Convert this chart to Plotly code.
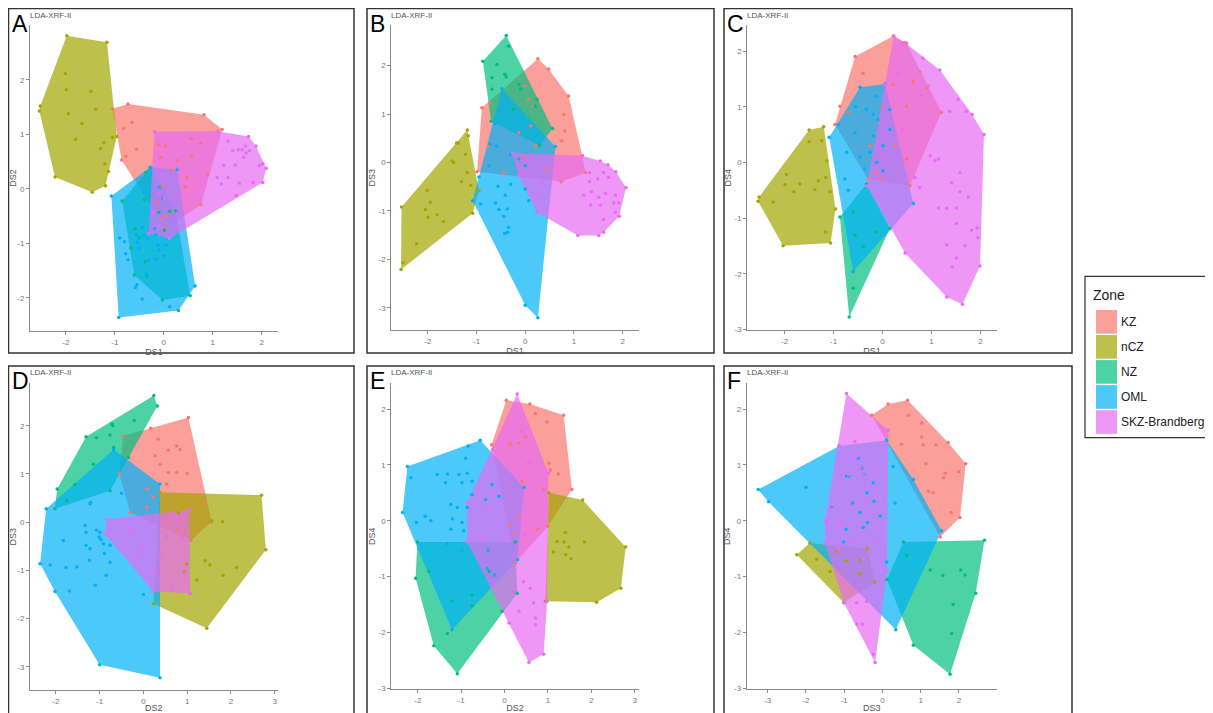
import plotly.graph_objects as go

# the page body adds an 8 px margin, so the figure is sized to fill the rest of the window
PAGE_W, PAGE_H, BODY_MARGIN = 1213, 713, 8
W, H = PAGE_W - BODY_MARGIN, PAGE_H - BODY_MARGIN

ZONES = ["KZ", "nCZ", "NZ", "OML", "SKZ-Brandberg"]
COLORS = ["#F8766D", "#A3A500", "#00BF7D", "#00B0F6", "#E76BF3"]
PANEL_TITLE = "LDA-XRF-II"

# ---------------- Panel A : DS1 vs DS2 ----------------
A_KZ = [(-1.05,1.47),(-0.73,1.56),(0.82,1.36),(1.19,1.09),(0.76,-0.29),(0.03,-0.73),(-0.86,0.53),
        (-0.65,1.22),(-0.82,1.11),(-0.56,0.73),(-0.10,0.81),(0.03,0.79),(-0.07,0.58),(0.27,0.52),
        (0.57,0.92),(0.75,0.84),(0.56,0.60),(0.47,0.21),(0.44,0.03),(0.90,0.27),(-0.02,0.04),
        (-0.14,-0.24),(-0.05,-0.55),(0.05,-0.50),(0.16,0.36),(-0.78,0.60)]
A_nCZ = [(-1.98,2.81),(-1.16,2.69),(-0.96,0.96),(-1.19,0.06),(-1.46,-0.06),(-2.22,0.22),(-2.54,1.43),
         (-2.52,1.52),(-2.01,2.12),(-1.99,1.82),(-1.49,1.79),(-1.95,1.38),(-1.39,1.46),(-1.67,1.20),
         (-1.80,0.91),(-1.22,0.85),(-1.29,0.74),(-1.20,0.46),(-1.13,0.32),(-1.05,0.95)]
A_NZ = [(-0.37,0.30),(-0.27,0.40),(0.24,-0.40),(0.54,-1.96),(-0.03,-2.04),(-0.60,-1.58),(-0.85,-0.22),
        (-0.58,-0.73),(-0.67,-1.08),(-0.38,-1.33),(0.12,-0.41),(0.01,-0.76),(-0.10,-0.43),
        (-0.35,-1.60),(-0.40,-0.20),(-0.50,-0.90)]
A_OML = [(-1.07,-0.13),(-0.28,0.40),(0.27,0.35),(0.64,-1.78),(0.30,-2.23),(-0.92,-2.36),
         (-0.90,-0.90),(-0.80,-0.97),(-0.78,-1.19),(-0.73,-1.30),(-0.56,-0.84),(-0.54,-0.98),
         (-0.44,-0.71),(-0.41,-0.86),(-0.33,-0.91),(-0.51,-1.09),(-0.31,-1.31),(-0.10,-1.12),
         (0.01,-1.23),(0.05,-1.03),(-0.12,-1.03),(-0.16,-0.85),(-0.58,-1.81),(-0.55,-1.76),
         (-0.44,-2.02),(0.12,-2.16),(-0.35,-1.56),(-0.16,-1.29),(-0.02,-0.18),(-0.09,0.03),(-0.19,-0.73)]
A_SKZ = [(-0.19,1.05),(1.10,1.06),(1.73,0.96),(1.88,0.79),(2.09,0.38),(2.02,0.12),(1.48,-0.12),
         (0.12,-0.91),(-0.31,-0.82),(1.31,0.88),(1.41,0.70),(1.52,0.72),(1.67,0.79),(1.68,0.66),
         (1.63,0.58),(1.46,0.44),(1.22,0.43),(1.31,0.21),(1.09,0.21),(1.54,0.11),(1.82,0.12),
         (1.95,0.43),(2.02,0.46),(1.17,0.09),(-0.02,0.27),(-0.09,-0.06),(0.01,-0.18),(-0.22,-0.43),
         (-0.09,-0.67),(1.60,0.72),(1.75,0.70)]

# ---------------- Panel B : DS1 vs DS3 ----------------
B_KZ = [(0.26,2.14),(0.48,1.93),(0.89,1.37),(1.17,0.14),(1.24,-0.21),(0.74,-0.40),(-0.99,-0.19),
        (-0.89,1.13),(-0.73,1.23),(0.0,1.58),(0.07,1.30),(0.17,1.16),(0.79,0.99),(0.81,0.65),
        (0.75,0.45),(0.11,0.75),(-0.13,0.62),(0.21,0.34),(-0.06,0.07),(0.45,-0.14),(-0.44,-0.21),
        (-0.75,0.34)]
B_nCZ = [(-1.19,0.67),(-0.95,-0.58),(-1.08,-1.05),(-2.55,-2.21),(-2.54,-0.92),(-1.17,0.55),
         (-1.38,0.40),(-1.50,0.03),(-1.47,0.00),(-1.19,-0.21),(-1.31,-0.40),(-1.12,-0.47),
         (-2.01,-0.58),(-1.95,-0.82),(-2.05,-0.97),(-2.00,-1.13),(-1.81,-1.08),(-1.68,-1.22),
         (-2.23,-1.68),(-2.51,-2.07),(-1.23,0.17),(-1.41,0.40)]
B_NZ = [(-0.39,2.62),(0.56,0.70),(0.30,0.35),(-0.70,0.85),(-0.87,2.09),(-0.34,2.40),(-0.58,2.02),
        (-0.68,1.75),(-0.42,1.82),(-0.39,1.77),(-0.13,1.61),(-0.10,1.51),(-0.68,1.51),(-0.24,1.10),
        (0.21,1.16),(0.24,1.30)]
B_OML = [(-0.48,1.52),(0.62,0.33),(0.26,-3.21),(0.00,-2.95),(-1.08,-0.79),(-0.95,-0.30),(-0.62,0.80),
         (-0.72,0.38),(-0.59,0.34),(-0.30,0.17),(-0.13,0.07),(0.00,-0.07),(-0.30,-0.45),(-0.56,-0.49),
         (-0.41,-0.68),(-0.61,-0.84),(-0.54,-0.97),(-0.37,-0.96),(-0.44,-1.11),(-0.34,-1.34),
         (-0.42,-1.47),(-0.36,-1.44),(0.07,-0.79),(0.00,-0.55),(-0.92,-0.86),(-0.75,-0.07)]
B_SKZ = [(-0.26,0.19),(1.17,0.14),(1.54,0.03),(1.70,-0.05),(1.86,-0.19),(2.07,-0.52),(1.93,-1.11),
         (1.61,-1.44),(1.51,-1.51),(1.08,-1.51),(0.24,-1.03),(-0.13,-0.27),(1.32,-0.21),(1.32,-0.40),
         (1.49,-0.34),(1.61,-0.21),(1.71,-0.31),(1.36,-0.60),(1.20,-0.68),(1.51,-0.72),(1.65,-0.64),
         (1.82,-0.84),(1.92,-0.84),(1.34,-0.88),(1.55,-0.88),(1.85,-1.03),(1.61,-1.18),(1.85,-0.68),
         (0.26,-0.62),(-0.03,-0.24),(0.35,-0.41)]

# ---------------- Panel C : DS1 vs DS4 ----------------
C_KZ = [(-0.56,1.90),(0.22,2.27),(0.49,2.14),(1.20,0.90),(0.56,-0.42),(-0.30,-0.30),(-0.97,0.68),
        (-0.87,1.01),(0.44,2.15),(0.63,1.45),(0.90,1.34),(0.76,1.63),(0.22,1.40),(0.49,1.01),
        (0.25,0.30),(-0.12,-0.18),(-0.26,0.30),(-0.05,-0.30),(0.49,0.06),(-0.40,1.60),(-0.70,0.90),
        (0.00,1.00)]
C_nCZ = [(-1.50,0.58),(-1.20,0.64),(-0.96,-0.84),(-1.06,-1.45),(-2.03,-1.50),(-2.54,-0.70),
         (-2.52,-0.62),(-1.50,0.37),(-1.24,0.39),(-1.14,0.03),(-1.96,-0.22),(-1.69,-0.39),
         (-1.99,-0.40),(-1.81,-0.53),(-1.38,-0.49),(-1.31,-0.33),(-1.16,-0.27),(-2.23,-0.71),
         (-1.16,-1.25),(-1.07,-0.53)]
C_NZ = [(-0.33,-0.39),(0.15,-1.19),(-0.68,-2.78),(-0.87,-0.98),(-0.60,-0.89),(-0.56,-1.31),
        (-0.39,-1.51),(-0.60,-2.26),(-0.60,-1.96),(-0.12,-1.25)]
C_OML = [(-0.46,1.35),(0.05,1.41),(0.63,-0.74),(-0.60,-1.96),(-1.09,0.45),(-0.90,0.68),(-0.33,0.95),
         (-0.19,0.86),(-0.09,0.77),(-0.12,1.19),(0.15,0.95),(-0.56,0.53),(-0.18,0.48),(0.01,0.30),
         (-0.73,0.18),(-0.46,0.09),(-0.12,0.0),(0.01,-0.15),(-0.77,-0.30),(-0.70,-0.50),(-0.36,-0.12),
         (-0.26,0.18),(0.15,0.59),(-0.55,1.0)]
C_SKZ = [(0.23,2.27),(0.46,2.15),(1.17,1.66),(1.54,1.13),(1.83,0.86),(2.07,0.50),(1.99,-1.86),
         (1.63,-2.55),(1.31,-2.42),(0.46,-1.63),(-0.32,-0.42),(0.05,1.40),(0.82,1.87),(0.93,1.37),
         (1.37,0.92),(1.71,0.92),(0.97,0.12),(1.07,0.03),(1.14,0.06),(1.58,-0.18),(1.41,-0.36),
         (1.58,-0.53),(1.75,-0.62),(1.14,-0.82),(1.31,-0.83),(1.51,-0.82),(1.51,-1.10),(1.82,-1.22),
         (1.93,-1.18),(1.95,-1.35),(1.31,-1.48),(1.68,-1.50),(1.51,-1.72),(1.42,-1.88),(0.76,-0.45),
         (0.66,-0.27),(0.40,0.60),(0.30,1.60),(0.80,1.20)]

# ---------------- Panel D : DS2 vs DS3 ----------------
D_KZ = [(-0.46,1.79),(0.17,1.95),(1.03,2.17),(1.56,0.01),(1.09,-0.38),(-0.30,0.20),(-0.55,1.0),
        (0.34,1.72),(0.57,1.49),(0.76,1.58),(0.84,1.51),(0.27,1.38),(0.38,1.20),(0.57,1.03),
        (0.76,1.03),(1.0,1.01),(0.08,0.69),(0.53,0.79),(0.08,0.31),(1.40,0.45),(0.80,-0.15),
        (0.95,-0.24),(0.23,0.52)]
D_nCZ = [(0.38,0.62),(2.70,0.56),(2.80,-0.57),(1.45,-2.20),(0.23,-1.69),(1.81,0.01),(1.41,-0.80),
         (1.52,-0.89),(2.13,-0.94),(1.82,-1.10),(1.22,-1.20),(0.94,-1.03),(0.99,-0.86),(1.56,0.03),
         (0.80,0.20)]
D_NZ = [(0.24,2.63),(0.32,2.41),(-0.34,1.34),(-0.76,0.65),(-2.02,0.28),(-1.97,0.69),(-1.31,1.77),
        (-0.72,2.04),(-0.70,2.00),(-0.21,2.11),(-1.07,1.75),(-0.76,1.81),(-0.68,1.55),(-1.56,0.78),
        (-1.14,1.20),(-1.75,0.45)]
D_OML = [(-0.68,1.51),(0.38,0.79),(0.38,-3.23),(-1.00,-2.96),(-2.02,-1.44),(-2.36,-0.86),(-2.22,0.28),
         (-1.22,0.38),(-1.33,-0.07),(-1.31,-0.21),(-1.07,-0.17),(-0.99,-0.21),(-1.01,-0.31),
         (-0.97,-0.36),(-0.91,-0.45),(-1.31,-0.48),(-1.22,-0.55),(-1.83,-0.38),(-0.76,-0.48),
         (-0.89,-0.65),(-1.23,-0.79),(-0.76,-0.83),(-1.77,-0.94),(-1.52,-0.93),(-2.13,-0.89),
         (-1.69,-1.43),(-1.10,-1.31),(-0.85,-1.10),(-1.20,0.41),(-0.50,0.60),(0.0,-1.5)]
D_SKZ = [(-0.84,0.06),(1.05,0.25),(1.07,-1.48),(0.23,-1.44),(-0.88,-0.24),(-0.53,0.03),(-0.27,-0.17),
         (-0.15,-0.72),(0.0,-0.52),(0.53,-0.31),(0.84,-0.10),(0.88,-0.34),(0.76,0.10),(0.95,-1.07),
         (0.38,-0.72),(0.68,-1.34),(0.30,-1.07),(0.91,0.17)]

# ---------------- Panel E : DS2 vs DS4 ----------------
E_KZ = [(0.04,2.16),(0.58,2.09),(1.36,1.89),(1.55,0.56),(1.0,-0.1),(0.25,-0.75),(-0.30,1.36),
        (0.71,1.92),(0.98,1.77),(0.48,1.50),(0.33,1.39),(0.13,1.37),(0.55,1.03),(1.02,1.03),
        (1.24,0.84),(1.05,0.91),(0.40,0.71),(0.33,0.09),(0.90,0.56),(0.12,-0.09),(0.21,-0.24),
        (0.75,-0.15)]
E_nCZ = [(1.02,0.50),(1.80,0.37),(2.79,-0.47),(2.68,-1.21),(2.12,-1.46),(0.94,-1.44),(1.40,-0.21),
         (1.21,-0.37),(1.37,-0.38),(1.48,-0.47),(1.41,-0.61),(1.53,-0.68),(1.84,-0.38),(1.13,-0.56)]
E_NZ = [(-2.01,-0.38),(0.25,-0.38),(0.29,-1.30),(-0.06,-1.62),(-1.09,-2.74),(-1.63,-2.24),(-2.05,-1.03),
        (-1.32,-2.02),(-0.75,-1.33),(-0.75,-1.52),(-1.21,-1.44),(-1.74,-0.91),(-0.36,-0.91)]
E_OML = [(-2.24,0.97),(-0.56,1.44),(0.45,0.60),(0.30,-0.70),(-1.21,-1.95),(-2.35,0.15),(-2.16,0.77),
         (-1.55,0.83),(-1.32,0.84),(-1.05,0.83),(-0.86,0.85),(-0.90,1.12),(-0.84,1.34),(-1.36,0.68),
         (-0.98,0.68),(-0.75,0.71),(-1.24,0.29),(-1.09,0.24),(-1.20,0.03),(-1.24,-0.15),(-1.83,0.08),
         (-1.70,0.0),(-2.03,-0.03),(-0.98,-0.03),(-0.94,-0.18),(-0.86,0.24),(-0.75,0.47),(-0.29,0.65),
         (-0.13,0.44),(-0.44,0.38),(-1.32,-0.41),(-0.98,-0.53),(-0.38,-0.53),(-0.23,-0.97),(-0.40,-0.85)]
E_SKZ = [(0.29,2.27),(1.01,0.85),(0.98,-1.44),(0.90,-2.39),(0.56,-2.54),(0.10,-1.83),(-0.86,-0.38),
         (-0.86,0.32),(-0.28,1.27),(0.40,1.60),(0.56,1.03),(0.40,0.32),(0.33,0.0),(0.21,-0.62),
         (0.44,-1.09),(0.59,-1.21),(0.67,-1.47),(0.33,-1.62),(0.71,-1.86),(0.71,-1.74),(0.21,-1.27),
         (0.09,-0.27),(0.48,-0.24),(-0.40,0.20),(-0.50,-0.30)]

# ---------------- Panel F : DS3 vs DS4 ----------------
F_KZ = [(-0.28,1.89),(0.15,2.09),(0.66,2.16),(1.72,1.40),(2.18,1.02),(2.03,0.06),(1.51,-0.29),
        (0.68,1.89),(1.03,1.75),(1.03,1.50),(1.07,1.36),(1.40,1.36),(0.50,1.37),(1.14,1.02),
        (1.64,0.85),(1.99,0.88),(1.60,0.77),(1.21,0.53),(1.33,0.50),(1.80,0.15)]
F_nCZ = [(-2.24,-0.61),(-1.90,-0.40),(-0.40,-0.50),(-0.20,-1.10),(-1.01,-1.47),(-1.72,-0.69),
         (-1.20,-0.55),(-0.94,-0.72),(-0.59,-0.70),(-1.37,-0.91),(-0.60,-0.95)]
F_NZ = [(0.55,-0.38),(2.67,-0.35),(2.44,-1.30),(1.77,-2.75),(0.81,-2.23),(0.12,-1.05),(1.25,-0.88),
        (1.58,-0.98),(2.05,-0.88),(2.16,-0.97),(1.85,-1.50),(1.81,-2.02),(0.63,-0.62)]
F_OML = [(-3.25,0.56),(-1.13,1.34),(0.11,1.44),(0.81,0.74),(1.55,-0.18),(0.35,-1.95),(-2.98,0.34),
         (-0.94,0.80),(-0.87,0.80),(-0.54,0.94),(-0.48,0.84),(-0.63,1.12),(-0.78,0.32),(-0.41,0.50),
         (-0.24,0.68),(-0.22,0.35),(-1.33,0.24),(-0.59,0.15),(-0.50,-0.12),(-0.39,-0.03),(-0.95,-0.15),
         (0.28,0.97),(0.33,0.32),(-1.02,-0.38),(-0.06,0.09),(0.11,-0.74),(-2.0,0.6)]
F_SKZ = [(-0.94,2.28),(0.15,1.62),(0.12,-0.90),(-0.19,-2.54),(-1.01,-1.47),(-1.50,-0.40),(-1.50,0.0),
         (-1.13,1.34),(-0.72,1.42),(-0.67,1.15),(-0.89,0.83),(-0.50,0.85),(-0.59,0.94),(-0.19,0.88),
         (-0.41,0.32),(-1.33,0.21),(-1.46,-0.03),(-1.11,-0.03),(-0.67,-1.47),(-0.41,-1.44),
         (-0.67,-1.85),(-0.52,-1.85),(-0.24,-2.39),(-0.76,-0.38),(-0.50,-0.68),(-0.15,-0.38),(-1.16,-0.50)]

A_DATA = [A_KZ, A_nCZ, A_NZ, A_OML, A_SKZ]
B_DATA = [B_KZ, B_nCZ, B_NZ, B_OML, B_SKZ]
C_DATA = [C_KZ, C_nCZ, C_NZ, C_OML, C_SKZ]
D_DATA = [D_KZ, D_nCZ, D_NZ, D_OML, D_SKZ]
E_DATA = [E_KZ, E_nCZ, E_NZ, E_OML, E_SKZ]
F_DATA = [F_KZ, F_nCZ, F_NZ, F_OML, F_SKZ]

TICKS_5 = [-2, -1, 0, 1, 2]
TICKS_6A = [-3, -2, -1, 0, 1, 2]
TICKS_6B = [-2, -1, 0, 1, 2, 3]

# layout of each panel: frame box and plot area in window pixels
PANELS = [
    dict(letter="A", data=A_DATA, xt="DS1", yt="DS2", xr=[-2.73, 2.33], yr=[-2.61, 3.01],
         frame=(8.5, 8.5, 354, 355), plot=(30, 25, 278, 333), xticks=TICKS_5, yticks=TICKS_5),
    dict(letter="B", data=B_DATA, xt="DS1", yt="DS3", xr=[-2.75, 2.33], yr=[-3.47, 2.84],
         frame=(367, 8.5, 714, 355), plot=(391.3, 25, 638.7, 332.3), xticks=TICKS_5, yticks=TICKS_6A),
    dict(letter="C", data=C_DATA, xt="DS1", yt="DS4", xr=[-2.76, 2.33], yr=[-3.02, 2.47],
         frame=(724, 8.5, 1072, 355), plot=(747.3, 25, 996.7, 332.3), xticks=TICKS_5, yticks=TICKS_6A),
    dict(letter="D", data=D_DATA, xt="DS2", yt="DS3", xr=[-2.59, 3.07], yr=[-3.49, 2.89],
         frame=(8.5, 368, 354, 730), plot=(30, 385, 277.7, 694.3), xticks=TICKS_6B, yticks=TICKS_6A),
    dict(letter="E", data=E_DATA, xt="DS2", yt="DS4", xr=[-2.61, 3.09], yr=[-3.02, 2.47],
         frame=(367, 368, 714, 730), plot=(391.3, 385, 638.7, 693.3), xticks=TICKS_6B, yticks=TICKS_6A),
    dict(letter="F", data=F_DATA, xt="DS3", yt="DS4", xr=[-3.55, 2.99], yr=[-3.02, 2.47],
         frame=(724, 368, 1072, 730), plot=(746.7, 385, 996.7, 693.3), xticks=TICKS_6A, yticks=TICKS_6A),
]


def convex_hull(points):
    pts = sorted(set(points))
    if len(pts) < 3:
        return pts

    def cross(o, a, b):
        return (a[0] - o[0]) * (b[1] - o[1]) - (a[1] - o[1]) * (b[0] - o[0])

    lower, upper = [], []
    for p in pts:
        while len(lower) >= 2 and cross(lower[-2], lower[-1], p) <= 0:
            lower.pop()
        lower.append(p)
    for p in reversed(pts):
        while len(upper) >= 2 and cross(upper[-2], upper[-1], p) <= 0:
            upper.pop()
        upper.append(p)
    return lower[:-1] + upper[:-1]


def rgba(hexc, a):
    h = hexc.lstrip("#")
    return f"rgba({int(h[0:2],16)},{int(h[2:4],16)},{int(h[4:6],16)},{a})"


def px(x):
    return (x - BODY_MARGIN) / W


def py(y):
    return 1 - (y - BODY_MARGIN) / H


FILL_ALPHA = 0.7
FONT = "Liberation Sans, Arial, sans-serif"

fig = go.Figure()
shapes, annotations = [], []
layout_axes = {}

for i, p in enumerate(PANELS):
    n = "" if i == 0 else str(i + 1)
    xa, ya = "x" + n, "y" + n
    # convex-hull polygons first
    for zone, col, pts in zip(ZONES, COLORS, p["data"]):
        hv = convex_hull(pts)
        hv = hv + [hv[0]]
        fig.add_trace(go.Scatter(
            x=[q[0] for q in hv], y=[q[1] for q in hv], mode="lines", fill="toself",
            fillcolor=rgba(col, FILL_ALPHA), line=dict(width=0, color=rgba(col, FILL_ALPHA)),
            xaxis=xa, yaxis=ya, showlegend=False, hoverinfo="skip", name=zone))
    # points on top
    for zone, col, pts in zip(ZONES, COLORS, p["data"]):
        fig.add_trace(go.Scatter(
            x=[q[0] for q in pts], y=[q[1] for q in pts], mode="markers",
            marker=dict(size=3.5, color=col, line=dict(width=0)),
            xaxis=xa, yaxis=ya, showlegend=False, name=zone))

    l, t, r, b = p["plot"]
    axis_common = dict(showgrid=False, zeroline=False, showline=True, linecolor="#8a8a8a",
                       linewidth=1, ticks="outside", ticklen=3, tickcolor="#8a8a8a", tickwidth=1,
                       tickfont=dict(size=8, color="#777777", family=FONT), fixedrange=True)
    layout_axes["xaxis" + n] = dict(
        axis_common, domain=[px(l), px(r)], range=p["xr"], anchor=ya,
        tickmode="array", tickvals=p["xticks"], ticktext=[str(v) for v in p["xticks"]],
        title=dict(text=p["xt"], font=dict(size=9, color="#555555", family=FONT), standoff=1))
    layout_axes["yaxis" + n] = dict(
        axis_common, domain=[py(b), py(t)], range=p["yr"], anchor=xa,
        tickmode="array", tickvals=p["yticks"], ticktext=[str(v) for v in p["yticks"]],
        title=dict(text=p["yt"], font=dict(size=9, color="#555555", family=FONT), standoff=1))

    fl, ft, fr, fb = p["frame"]
    shapes.append(dict(type="rect", xref="paper", yref="paper", x0=px(fl), x1=px(fr),
                       y0=py(fb), y1=py(ft), line=dict(color="#333333", width=1.5),
                       fillcolor="rgba(0,0,0,0)", layer="above"))
    annotations.append(dict(text=p["letter"], xref="paper", yref="paper", x=px(fl + 1),
                            y=py(ft + 0.5), xanchor="left", yanchor="top", showarrow=False,
                            font=dict(size=23, color="#000000", family=FONT)))
    annotations.append(dict(text=PANEL_TITLE, xref="paper", yref="paper", x=px(l - 2),
                            y=py(ft + 7), xanchor="left", yanchor="middle", showarrow=False,
                            font=dict(size=8, color="#555555", family=FONT)))

# ---- legend (key boxes + text) ----
LEG_L, LEG_T, LEG_R, LEG_B = 1085, 278, 1225, 440
shapes.append(dict(type="rect", xref="paper", yref="paper", x0=px(LEG_L), x1=px(LEG_R),
                   y0=py(LEG_B), y1=py(LEG_T), line=dict(color="#333333", width=1.2),
                   fillcolor="white"))
annotations.append(dict(text="Zone", xref="paper", yref="paper", x=px(1091), y=py(297),
                        xanchor="left", yanchor="middle", showarrow=False,
                        font=dict(size=14, color="#222222", family=FONT)))
KEY_TOP, KEY_H = 311, 25.2
for k, (zone, col) in enumerate(zip(ZONES, COLORS)):
    y0 = KEY_TOP + k * KEY_H
    shapes.append(dict(type="rect", xref="paper", yref="paper", x0=px(1096), x1=px(1117),
                       y0=py(y0 + KEY_H - 0.7), y1=py(y0 + 0.7),
                       line=dict(width=0), fillcolor=rgba(col, FILL_ALPHA)))
    annotations.append(dict(text=zone, xref="paper", yref="paper", x=px(1119),
                            y=py(y0 + KEY_H / 2), xanchor="left", yanchor="middle",
                            showarrow=False, font=dict(size=12, color="#222222", family=FONT)))

fig.update_layout(
    width=W, height=H, margin=dict(l=0, r=0, t=0, b=0),
    paper_bgcolor="white", plot_bgcolor="white", showlegend=False,
    shapes=shapes, annotations=annotations, **layout_axes)

fig.write_html("out.html")
